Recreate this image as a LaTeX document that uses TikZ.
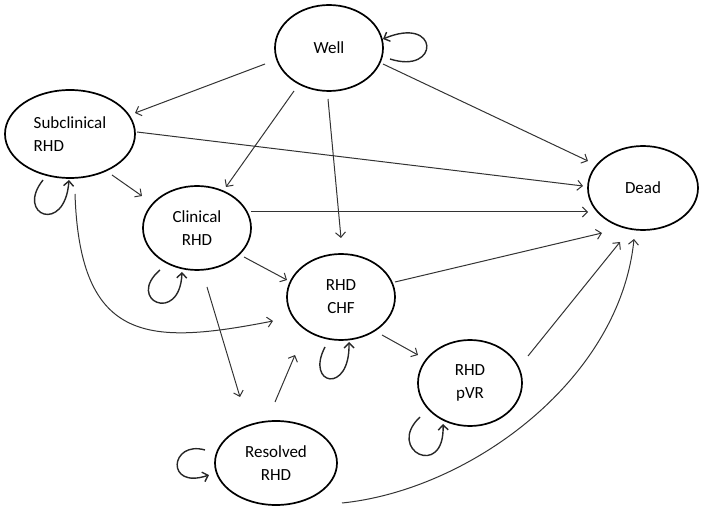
\documentclass[tikz,border=0pt]{standalone}
\usepackage{fontspec}
\setmainfont{Carlito}
\usetikzlibrary{shapes.geometric,arrows.meta}
\begin{document}
\begin{tikzpicture}[x=1pt,y=-1pt,
  state/.style={ellipse,draw,line width=1.7pt,inner sep=0pt,
    font=\fontsize{17}{23}\selectfont,align=center},
  conn/.style={line width=1pt,draw=black!80,
    -{Straight Barb[length=5pt,width=10pt,line width=1pt]}},
  selfloop/.style={line width=1.4pt,draw=black!85,
    -{Straight Barb[length=5pt,width=10pt,line width=1.4pt]}}]
\useasboundingbox (0,0) rectangle (702,510);

\node[state,minimum width=108pt,minimum height=86pt] (well) at (329,48) {Well};
\node[state,minimum width=130pt,minimum height=88pt,align=left] (sub) at (70,134) {Subclinical\\RHD};
\node[state,minimum width=108pt,minimum height=84pt] (clin) at (197,228) {Clinical\\RHD};
\node[state,minimum width=108pt,minimum height=86pt] (chf) at (341,297) {RHD\\CHF};
\node[state,minimum width=104pt,minimum height=86pt] (pvr) at (470,383) {RHD\\pVR};
\node[state,minimum width=122pt,minimum height=84pt] (res) at (276,463) {Resolved\\RHD};
\node[state,minimum width=110pt,minimum height=84pt] (dead) at (643,188) {Dead};

% straight transitions
\draw[conn] ([shift={(-64,16)}]well.center) -- ([shift={(65,-21)}]sub.center);
\draw[conn] ([shift={(-35,43)}]well.center) -- ([shift={(29,-41)}]clin.center);
\draw[conn] ([shift={(-1,51)}]well.center) -- ([shift={(0,-59)}]chf.center);
\draw[conn] ([shift={(54,16)}]well.center) -- ([shift={(-55,-27)}]dead.center);
\draw[conn] ([shift={(67,-2)}]sub.center) -- ([shift={(-60,-2)}]dead.center);
\draw[conn] ([shift={(42,41)}]sub.center) -- ([shift={(-55,-32)}]clin.center);
\draw[conn] ([shift={(54,-16)}]clin.center) -- ([shift={(-55,24)}]dead.center);
\draw[conn] ([shift={(47,29)}]clin.center) -- ([shift={(-54,-17)}]chf.center);
\draw[conn] ([shift={(10,59)}]clin.center) -- ([shift={(-36,-66)}]res.center);
\draw[conn] ([shift={(-1,-61)}]res.center) -- ([shift={(-46,58)}]chf.center);
\draw[conn] ([shift={(54,-15)}]chf.center) -- ([shift={(-41,45)}]dead.center);
\draw[conn] ([shift={(41,38)}]chf.center) -- ([shift={(-52,-28)}]pvr.center);
\draw[conn] ([shift={(58,-27)}]pvr.center) -- ([shift={(-23,54)}]dead.center);

% curved transitions
\draw[conn] ([shift={(5,60)}]sub.center) .. controls (80,345) and (150,345) .. ([shift={(-68,24)}]chf.center);
\draw[conn] ([shift={(66,40)}]res.center) .. controls (470,490) and (620,380) .. ([shift={(-9,51)}]dead.center);

% self loops
\draw[selfloop] ([shift={(61,11)}]well.center) .. controls (440,75) and (440,15) .. ([shift={(54,-9)}]well.center);
\draw[selfloop] ([shift={(-27,46)}]sub.center) .. controls (15,215) and (65,235) .. ([shift={(-1,46)}]sub.center);
\draw[selfloop] ([shift={(-37,42)}]clin.center) .. controls (125,300) and (180,325) .. ([shift={(-15,44)}]clin.center);
\draw[selfloop] ([shift={(-16,50)}]chf.center) .. controls (305,385) and (350,395) .. ([shift={(8,45)}]chf.center);
\draw[selfloop] ([shift={(-50,34)}]pvr.center) .. controls (385,450) and (445,480) .. ([shift={(-27,41)}]pvr.center);
\draw[selfloop] ([shift={(-71,-13)}]res.center) .. controls (170,440) and (165,490) .. ([shift={(-67,12)}]res.center);
\end{tikzpicture}
\end{document}
